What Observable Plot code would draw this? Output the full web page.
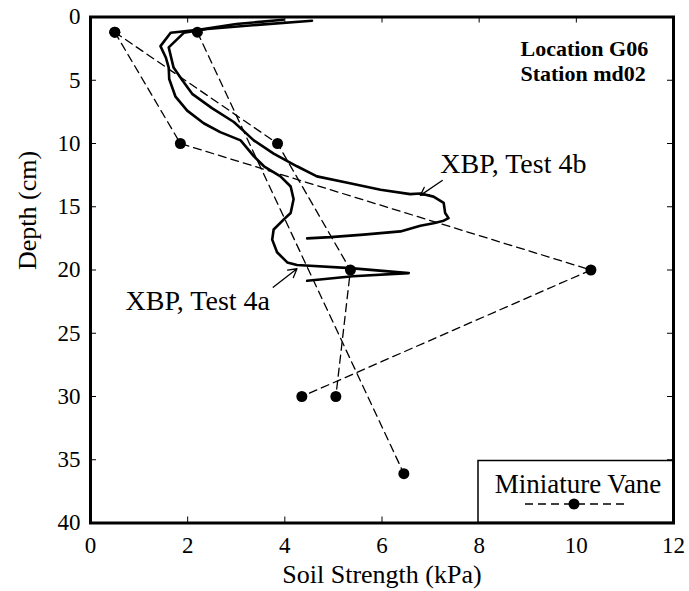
<!DOCTYPE html>
<html>
<head>
<meta charset="utf-8">
<script src="https://cdn.jsdelivr.net/npm/d3@7"></script>
<script src="https://cdn.jsdelivr.net/npm/@observablehq/plot@0.6"></script>
<style>
  html, body { margin: 0; padding: 0; background: #fff; }
  #chart { width: 689px; height: 591px; }
  #chart svg, #chart svg text { font-family: "Liberation Serif", "Times New Roman", Times, serif !important; }
</style>
</head>
<body>
<div id="chart"></div>
<script>
// ---- Data ----
const xTicks = [0, 2, 4, 6, 8, 10, 12];
const yTicks = [0, 5, 10, 15, 20, 25, 30, 35, 40];

// XBP, Test 4a : soil strength (kPa) vs depth (cm)
const xbp4aStrength = [3.97, 3.0, 2.26, 1.65, 1.44, 1.55, 1.61, 1.62, 1.75, 1.99, 2.33, 2.67, 3.09, 3.36, 3.57, 3.91, 4.12, 4.18, 4.12, 3.98, 3.77, 3.74, 3.84, 4.05, 4.25, 5.35, 6.55, 5.4, 4.46];
const xbp4aDepth    = [0.22, 0.55, 1.0, 1.25, 2.3, 3.2, 4.0, 4.9, 6.3, 7.4, 8.4, 9.1, 9.75, 11.0, 11.8, 12.6, 13.4, 14.4, 15.5, 16.0, 16.8, 17.6, 18.6, 19.4, 19.6, 19.85, 20.25, 20.5, 20.85];

// XBP, Test 4b
const xbp4bStrength = [4.56, 3.5, 2.4, 1.92, 1.61, 1.66, 1.71, 1.89, 2.1, 2.5, 2.95, 3.15, 3.36, 3.77, 4.25, 4.66, 5.29, 5.97, 6.58, 6.79, 7.06, 7.27, 7.3, 7.37, 7.27, 7.06, 6.79, 6.38, 5.62, 4.94, 4.46];
const xbp4bDepth    = [0.3, 0.6, 0.95, 1.25, 2.4, 3.2, 4.0, 5.0, 6.1, 7.2, 8.3, 9.0, 9.75, 10.8, 11.8, 12.6, 13.1, 13.65, 14.0, 13.95, 14.2, 14.7, 15.5, 15.9, 16.1, 16.3, 16.5, 16.95, 17.2, 17.4, 17.5];

// Miniature Vane tests
const vane1Strength = [0.5, 1.85, 10.3, 4.35];
const vane1Depth    = [1.2, 10, 20, 30];
const vane2Strength = [0.5, 3.85, 5.35, 5.05];
const vane2Depth    = [1.2, 10, 20, 30];
const vane3Strength = [2.2, 6.45];
const vane3Depth    = [1.2, 36.1];

// Annotations
const annotLabels = ["XBP, Test 4b", "XBP, Test 4a"];
const annotX = [7.2, 0.72];
const annotY = [12.37, 23.2];
const arrowX1 = [7.24, 3.76];
const arrowY1 = [12.92, 21.36];
const arrowX2 = [6.79, 4.25];
const arrowY2 = [14.1, 19.9];
const locationText = "Location G06\nStation md02";
const locationX = 8.85;
const locationY = 1.65;

const legendLabel = "Miniature Vane";
const xLabel = "Soil Strength (kPa)";
const yLabel = "Depth (cm)";

// ---- Build tables ----
const zip = (xs, ys, extra = {}) => xs.map((x, i) => ({x, y: ys[i], ...extra}));
const xbp4a = zip(xbp4aStrength, xbp4aDepth);
const xbp4b = zip(xbp4bStrength, xbp4bDepth);
const vanes = [
  ...zip(vane1Strength, vane1Depth, {test: "1"}),
  ...zip(vane2Strength, vane2Depth, {test: "2"}),
  ...zip(vane3Strength, vane3Depth, {test: "3"})
];
const annots = annotLabels.map((t, i) => ({t, x: annotX[i], y: annotY[i]}));
const arrows = arrowX1.map((x1, i) => ({x1, y1: arrowY1[i], x2: arrowX2[i], y2: arrowY2[i]}));

// ---- Layout ----
const W = 689, H = 591;
const M = {top: 16.5, right: 16, bottom: 68.5, left: 90};
const innerW = W - M.left - M.right;
const innerH = H - M.top - M.bottom;
const FONT = "Liberation Serif";
const tickLen = 6;
const dash = "8,5";

const chart = Plot.plot({
  width: W,
  height: H,
  marginTop: M.top,
  marginRight: M.right,
  marginBottom: M.bottom,
  marginLeft: M.left,
  style: {fontFamily: FONT, background: "#fff", color: "#000"},
  x: {domain: [0, 12]},
  y: {domain: [0, 40], reverse: true},
  marks: [
    // inward tick marks on all four sides
    Plot.tickX(xTicks, {x: d => d, insetTop: innerH - tickLen, stroke: "#000", strokeWidth: 1}),
    Plot.tickX(xTicks, {x: d => d, insetBottom: innerH - tickLen, stroke: "#000", strokeWidth: 1}),
    Plot.tickY(yTicks, {y: d => d, insetRight: innerW - tickLen, stroke: "#000", strokeWidth: 1}),
    Plot.tickY(yTicks, {y: d => d, insetLeft: innerW - tickLen, stroke: "#000", strokeWidth: 1}),
    Plot.axisX(xTicks, {anchor: "bottom", tickSize: 0, tickPadding: 14, label: null, fontSize: 23, fontFamily: FONT, fill: "#000"}),
    Plot.axisY(yTicks, {anchor: "left", tickSize: 0, tickPadding: 10, label: null, fontSize: 23, fontFamily: FONT, fill: "#000"}),
    // miniature vane
    Plot.line(vanes, {x: "x", y: "y", z: "test", stroke: "#000", strokeWidth: 1.3, strokeDasharray: dash}),
    Plot.dot(vanes, {x: "x", y: "y", r: 5.5, fill: "#000"}),
    // XBP profiles
    Plot.line(xbp4a, {x: "x", y: "y", stroke: "#000", strokeWidth: 2.6, curve: "linear"}),
    Plot.line(xbp4b, {x: "x", y: "y", stroke: "#000", strokeWidth: 2.6, curve: "linear"}),
    // annotations
    Plot.arrow(arrows, {x1: "x1", y1: "y1", x2: "x2", y2: "y2", stroke: "#000", strokeWidth: 1.3, headLength: 11, bend: 0}),
    Plot.text(annots, {x: "x", y: "y", text: "t", textAnchor: "start", lineAnchor: "bottom", fontSize: 28, fontFamily: FONT, fill: "#000"}),
    Plot.text([locationText], {x: () => locationX, y: () => locationY, text: d => d, textAnchor: "start", lineAnchor: "top", fontSize: 22, fontWeight: "bold", fontFamily: FONT, lineHeight: 1.14, fill: "#000"}),
    // axis titles
    Plot.text([xLabel], {frameAnchor: "bottom", text: d => d, lineAnchor: "bottom", dy: 59.5, fontSize: 26, fontFamily: FONT, fill: "#000"}),
    Plot.text([yLabel], {frameAnchor: "left", text: d => d, rotate: -90, lineAnchor: "bottom", dx: -55, fontSize: 26, fontFamily: FONT, fill: "#000"}),
    Plot.frame({stroke: "#000", strokeWidth: 3})
  ]
});

document.getElementById("chart").appendChild(chart);

// ---- Legend box (bottom-right inside the frame) ----
const svg = d3.select(chart);
const right = W - M.right, bottom = H - M.bottom;
const boxW = 195, boxH = 62;
const lg = svg.append("g");
lg.append("rect")
  .attr("x", right - boxW).attr("y", bottom - boxH)
  .attr("width", boxW).attr("height", boxH)
  .attr("fill", "#fff").attr("stroke", "#000").attr("stroke-width", 1.5);
const cx = right - boxW + 100;
lg.append("text")
  .attr("x", cx).attr("y", bottom - 29.5)
  .attr("text-anchor", "middle")
  .attr("font-family", FONT).attr("font-size", 27).attr("fill", "#000")
  .text(legendLabel);
lg.append("line")
  .attr("x1", cx - 53).attr("x2", cx + 50)
  .attr("y1", bottom - 18.5).attr("y2", bottom - 18.5)
  .attr("stroke", "#000").attr("stroke-width", 1.3).attr("stroke-dasharray", dash);
lg.append("circle")
  .attr("cx", cx - 4).attr("cy", bottom - 18.5).attr("r", 5.5).attr("fill", "#000");
// re-draw frame edges over the legend box
svg.node().appendChild(svg.select("[aria-label=frame]").node());
</script>
</body>
</html>
